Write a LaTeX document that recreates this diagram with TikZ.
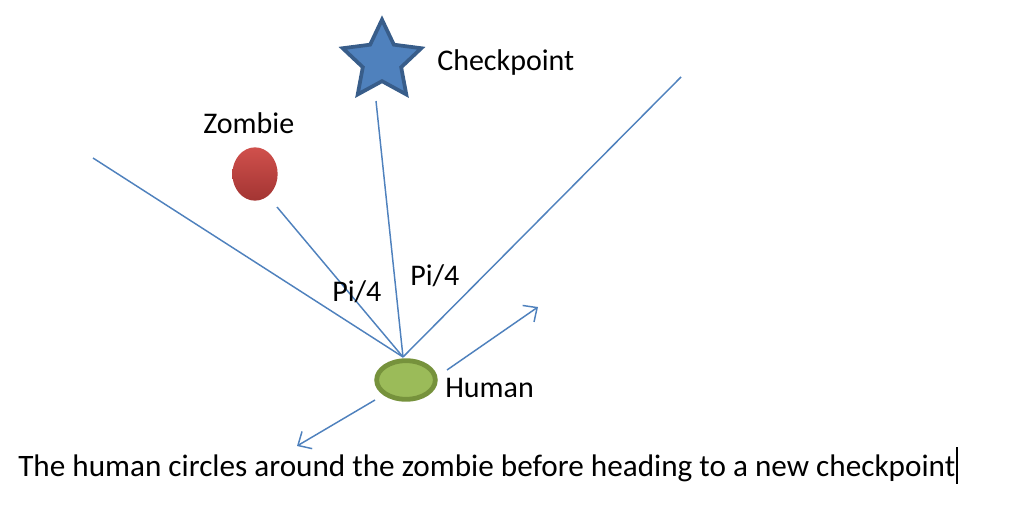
\documentclass[tikz,border=0pt]{standalone}
\usepackage{fontspec}
\setmainfont{Carlito}
\usetikzlibrary{shapes.geometric,arrows.meta}
\definecolor{lineblue}{HTML}{4F81BD}
\definecolor{stardark}{HTML}{385D8A}
\definecolor{humanfill}{HTML}{9BBB59}
\definecolor{humanedge}{HTML}{76923C}
\definecolor{zomtop}{HTML}{D0504C}
\definecolor{zombot}{HTML}{A33533}
\tikzset{
  ray/.style={draw=lineblue, line width=1.1pt},
  dirarrow/.style={draw=lineblue, line width=1.1pt, -{Straight Barb[length=8pt,width=15pt,line width=1.1pt]}},
  lbl/.style={font=\fontsize{22.5}{27}\selectfont, inner sep=0pt, anchor=base west},
  caption/.style={font=\fontsize{23.4}{28}\selectfont, inner sep=0pt, anchor=base west},
}
\begin{document}
\begin{tikzpicture}[x=0.75pt,y=-0.75pt]
\useasboundingbox (0,0) rectangle (1015,514);
\node[star, star points=5, star point ratio=2.05, minimum size=62pt, inner sep=0pt,
      fill=lineblue, draw=stardark, line width=2.8pt] (star) at (382,61) {};
\node[ellipse, minimum width=34pt, minimum height=40pt, inner sep=0pt,
      top color=zomtop, bottom color=zombot] (zombie) at (255,174) {};
\node[ellipse, minimum width=44pt, minimum height=29pt, inner sep=0pt,
      fill=humanfill, draw=humanedge, line width=3.6pt] (human) at (406,380) {};
\coordinate (hub) at (403,357);
\coordinate (leftend) at (93,158);
\coordinate (zomend) at (277,207);
\coordinate (starend) at (376,101);
\coordinate (rightend) at (681,77);
\coordinate (a1s) at (447,370);
\coordinate (a1e) at (538,307);
\coordinate (a2s) at (375,400);
\coordinate (a2e) at (297,446);
\draw[ray] (hub) -- (leftend);
\draw[ray] (hub) -- (zomend);
\draw[ray] (hub) -- (starend);
\draw[ray] (hub) -- (rightend);
\draw[dirarrow] (a1s) -- (a1e);
\draw[dirarrow] (a2s) -- (a2e);
\node[lbl] (tcheck) at (437,70) {Checkpoint};
\node[lbl] (tzombie) at (203,133) {Zombie};
\node[lbl] (tpi1) at (332,301) {Pi/4};
\node[lbl] (tpi2) at (410,285) {Pi/4};
\node[lbl] (thuman) at (445,397) {Human};
\node[caption] (tcap) at (18,476) {The human circles around the zombie before heading to a new checkpoint};
\coordinate (cur1) at (957,447);
\coordinate (cur2) at (957,484);
\draw[black, line width=1.3pt] (cur1) -- (cur2);
\end{tikzpicture}
\end{document}
